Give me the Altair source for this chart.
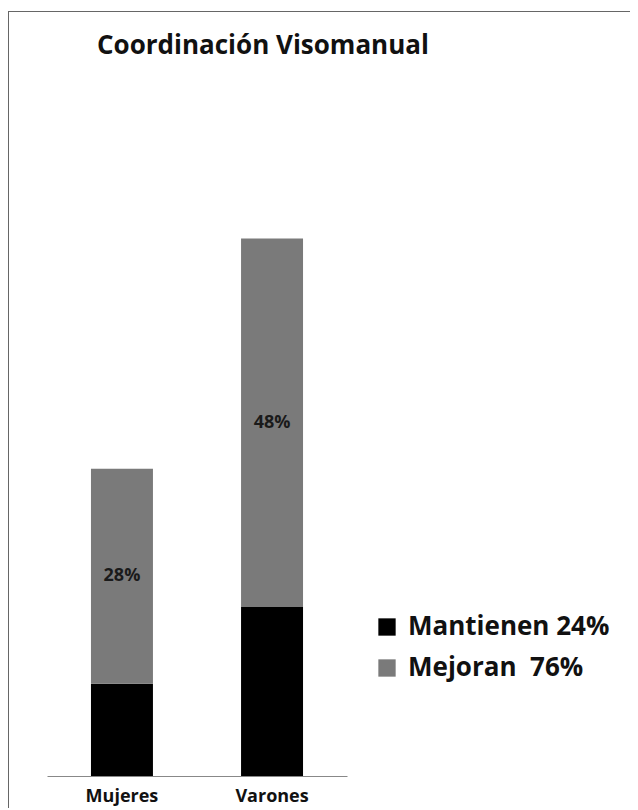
import altair as alt
import pandas as pd

categories = ["Mujeres", "Varones"]
series = ["Mantienen 24%", "Mejoran\u00a0\u00a076%"]
mantienen = [12, 22]
mejoran = [28, 48]
colors = ["#000000", "#7a7a7a"]

rows = []
for i, c in enumerate(categories):
    rows.append({"cat": c, "serie": series[0], "orden": 0, "valor": mantienen[i]})
    rows.append({"cat": c, "serie": series[1], "orden": 1, "valor": mejoran[i]})
df = pd.DataFrame(rows)

W, H = 622, 768
xscale = alt.Scale(domain=categories, range=[39, 339], paddingInner=0.587, paddingOuter=0.293)
yscale = alt.Scale(domain=[0, 100])

base = (
    alt.Chart(df)
    .transform_stack(stack="valor", groupby=["cat"], as_=["v0", "v1"],
                     sort=[alt.SortField("orden", order="ascending")])
    .transform_calculate(mid="(datum.v0 + datum.v1) / 2", etiqueta="datum.valor + '%'")
)

xenc = alt.X(
    "cat:N", scale=xscale, sort=categories,
    axis=alt.Axis(title=None, ticks=False, labelAngle=0, labelFontSize=18,
                  labelFont="Open Sans", labelFontWeight="bold", labelColor="#111",
                  labelPadding=11, domainColor="#888", domainWidth=1),
)

bars = base.mark_bar().encode(
    x=xenc,
    y=alt.Y("v0:Q", scale=yscale, axis=None),
    y2="v1:Q",
    color=alt.Color(
        "serie:N",
        scale=alt.Scale(domain=series, range=colors),
        legend=alt.Legend(
            title=None, orient="none", legendX=366, legendY=606,
            symbolType="square", symbolSize=300, symbolStrokeWidth=0,
            labelFont="Open Sans", labelFontSize=26, labelFontWeight="bold",
            labelColor="#111", labelOffset=8, rowPadding=15, padding=0,
            labelLimit=400,
        ),
    ),
)

labels = base.transform_filter(alt.datum.orden == 1).mark_text(
    font="Open Sans", fontWeight="bold", fontSize=18, color="#1a1a1a"
).encode(
    x=alt.X("cat:N", scale=xscale, sort=categories),
    y=alt.Y("mid:Q", scale=yscale),
    text=alt.Text("etiqueta:N"),
)

frame_top = alt.Chart(alt.Data(values=[{}])).mark_rule(color="#666", strokeWidth=1).encode(
    x=alt.value(0), x2=alt.value(622), y=alt.value(3.5)
)
frame_left = alt.Chart(alt.Data(values=[{}])).mark_rule(color="#666", strokeWidth=1).encode(
    x=alt.value(0.5), y=alt.value(3.5), y2=alt.value(800)
)

chart = alt.layer(frame_top, frame_left, bars, labels).properties(
    width=W, height=H,
    title=alt.Title("Coordinación Visomanual", anchor="start", frame="group",
                    dx=89, dy=72, offset=0, baseline="alphabetic",
                    fontSize=26, font="Open Sans", fontWeight="bold", color="#111"),
    autosize=alt.AutoSizeParams(type="none"),
    padding={"left": 0, "top": 0, "right": 0, "bottom": 34},
).configure_view(stroke=None)

chart.save("out.html", embed_options={"renderer": "svg", "actions": False})
